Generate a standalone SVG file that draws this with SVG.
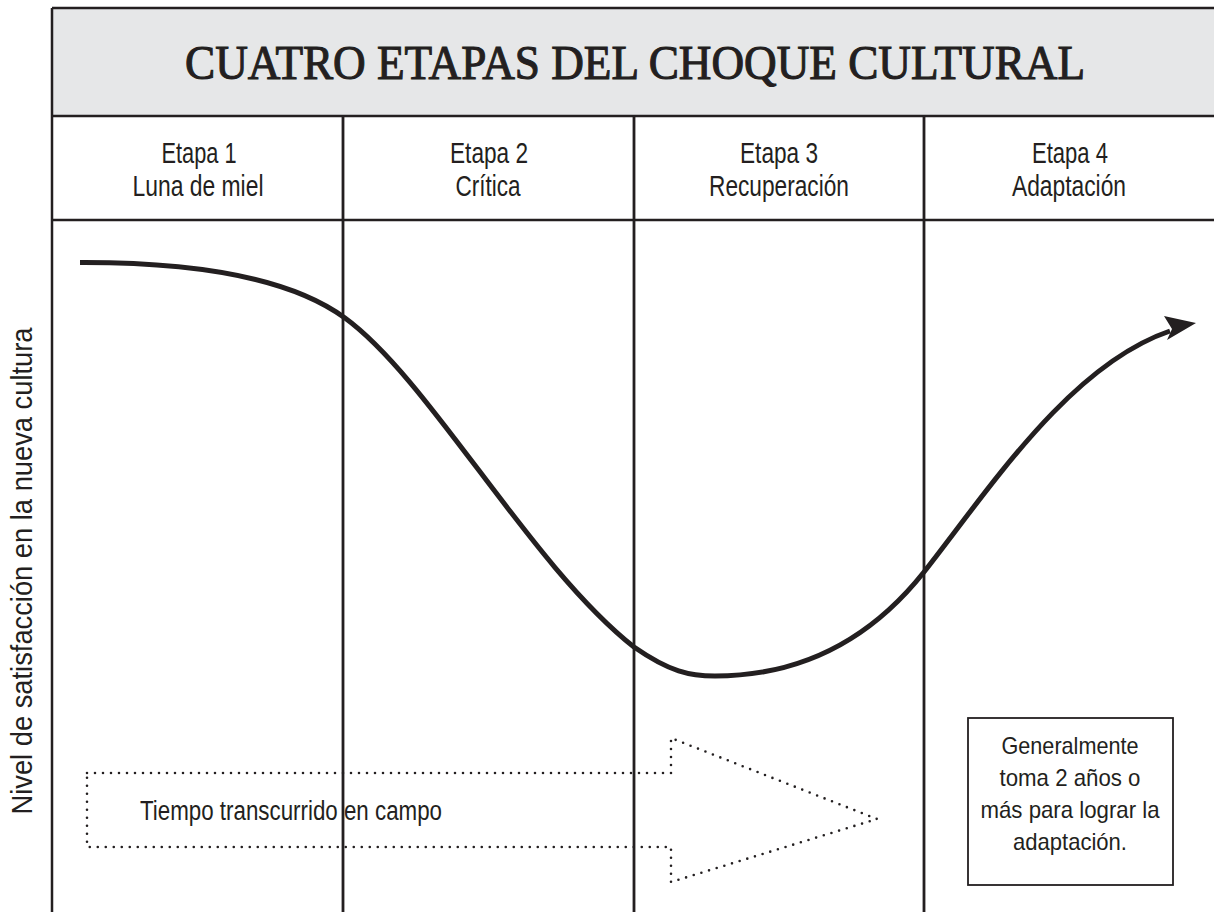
<svg xmlns="http://www.w3.org/2000/svg" width="1214" height="912" viewBox="0 0 1214 912">
  <style>
    .ln { stroke: #231f20; fill: none; }
    .txt { font-family: "Liberation Sans", Arial, sans-serif; fill: #231f20; text-anchor: middle; }
    .stage { font-size: 30px; }
    .note { font-size: 24px; }
    .title { font-family: "Liberation Serif", "Times New Roman", serif; font-weight: normal; font-size: 48px; fill: #231f20; stroke: #231f20; stroke-width: 1.1; text-anchor: middle; }
    .dots { stroke: #231f20; fill: none; stroke-width: 2.6; stroke-linecap: round; stroke-dasharray: 0 8; }
  </style>
  <rect x="0" y="0" width="1214" height="912" fill="#ffffff"/>

  <g id="header">
    <rect x="52" y="8" width="1164" height="108" fill="#e6e7e8"/>
    <text class="title" x="635" y="79" textLength="900" lengthAdjust="spacingAndGlyphs">CUATRO ETAPAS DEL CHOQUE CULTURAL</text>
  </g>

  <g id="frame">
    <path class="ln" stroke-width="2.5" d="M52,8 H1216 M52,8 V912 M52,116 H1216 M52,220 H1216"/>
    <path class="ln" stroke-width="2.8" d="M343,116 V912 M634,116 V912 M924,116 V912"/>
  </g>

  <g id="stage1">
    <text class="txt stage" x="199" y="163" textLength="75" lengthAdjust="spacingAndGlyphs">Etapa 1</text>
    <text class="txt stage" x="198" y="196" textLength="131" lengthAdjust="spacingAndGlyphs">Luna de miel</text>
  </g>
  <g id="stage2">
    <text class="txt stage" x="489" y="163" textLength="78" lengthAdjust="spacingAndGlyphs">Etapa 2</text>
    <text class="txt stage" x="488" y="196" textLength="65" lengthAdjust="spacingAndGlyphs">Crítica</text>
  </g>
  <g id="stage3">
    <text class="txt stage" x="779" y="163" textLength="78" lengthAdjust="spacingAndGlyphs">Etapa 3</text>
    <text class="txt stage" x="779" y="196" textLength="140" lengthAdjust="spacingAndGlyphs">Recuperación</text>
  </g>
  <g id="stage4">
    <text class="txt stage" x="1070" y="163" textLength="76" lengthAdjust="spacingAndGlyphs">Etapa 4</text>
    <text class="txt stage" x="1069" y="196" textLength="114" lengthAdjust="spacingAndGlyphs">Adaptación</text>
  </g>

  <g id="axis-label">
    <text class="txt" font-size="29" transform="translate(32 571) rotate(-90)" x="0" y="0" textLength="487" lengthAdjust="spacingAndGlyphs">Nivel de satisfacción en la nueva cultura</text>
  </g>

  <g id="time-arrow">
    <path class="dots" d="M87,773 L671,773 L671,738 L877,819 L671,882 L671,847 L87,847 Z"/>
    <text class="txt" font-size="27" x="291" y="820" textLength="302" lengthAdjust="spacingAndGlyphs">Tiempo transcurrido en campo</text>
  </g>

  <g id="note">
    <rect x="968" y="718" width="205" height="167" fill="#ffffff" stroke="#231f20" stroke-width="1.8"/>
    <text class="txt note" x="1070" y="754" textLength="137" lengthAdjust="spacingAndGlyphs">Generalmente</text>
    <text class="txt note" x="1070" y="786" textLength="141" lengthAdjust="spacingAndGlyphs">toma 2 años o</text>
    <text class="txt note" x="1070" y="818" textLength="179" lengthAdjust="spacingAndGlyphs">más para lograr la</text>
    <text class="txt note" x="1070" y="850" textLength="114" lengthAdjust="spacingAndGlyphs">adaptación.</text>
  </g>

  <g id="connectors">
    <path class="ln" stroke-width="5" d="M80,262.5 C220,262 300,285 345,318 C430,380 530,565 634,647 C670,672 690,676 715,676 C800,676 870,640 924,572 C990,488 1070,365 1170,331"/>
    <polygon fill="#231f20" points="1196,323 1164,316 1172,329 1167,340"/>
  </g>
</svg>
